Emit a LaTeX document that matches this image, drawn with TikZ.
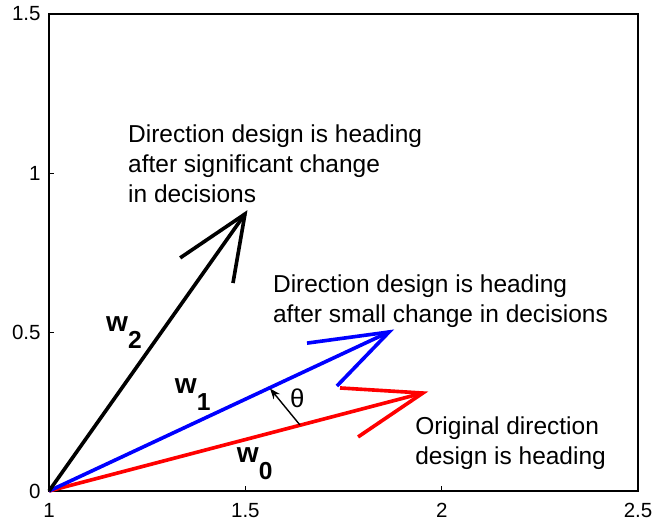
\documentclass[tikz,border=0pt]{standalone}
\usepackage{fontspec}
\setmainfont{Liberation Sans}
\usetikzlibrary{arrows.meta}
\definecolor{oldred}{RGB}{255, 0, 0}
\definecolor{newblue}{RGB}{0, 0, 255}
\tikzset{
  axisline/.style={line width=1.4pt, black},
  tickmark/.style={line width=0.8pt, black},
  ticklabel/.style={inner sep=0pt, font=\fontsize{17.5}{20}\selectfont},
  vec/.style={line width=3.1pt, line join=miter},
  note/.style={align=left, anchor=base west, inner sep=0pt, font=\fontsize{20.9}{25.6}\selectfont},
  wlabel/.style={anchor=base west, inner sep=0pt, font=\fontsize{24}{24}\selectfont\bfseries},
  anglearrow/.style={-{Stealth[length=9pt, width=7pt]}, line width=1.2pt},
}
\begin{document}
\begin{tikzpicture}[x=11.781cm, y=9.54cm]
        \useasboundingbox (0.8752, -0.1006) rectangle (2.5355, 1.544);
        % axes
        \draw[axisline] (1, 0) rectangle (2.5, 1.5);
        \foreach \xv in {1.5, 2} \draw[tickmark] (\xv, 0) -- ++(0, 4pt);
        \foreach \yv in {0.5, 1} \draw[tickmark] (1, \yv) -- ++(4pt, 0);
        \foreach \xv in {1, 1.5, 2, 2.5}
          \node[ticklabel, anchor=north] (x\xv) at ([yshift=-10pt]\xv, 0) {\xv};
        \foreach \yv in {0, 0.5, 1, 1.5}
          \node[ticklabel, anchor=east] (y\yv) at ([xshift=-7pt]1, \yv) {\yv};

        % vectors
        \coordinate (o) at (1, 0);
        \coordinate (w0tip) at (1.952, 0.308);
        \coordinate (w1tip) at (1.866, 0.500);
        \coordinate (w2tip) at (1.499, 0.871);
        \draw[vec, oldred] (o) -- (w0tip);
        \draw[vec, oldred] (1.741, 0.324) -- (w0tip) -- (1.787, 0.170);
        \draw[vec, newblue] (o) -- (w1tip);
        \draw[vec, newblue] (1.657, 0.465) -- (w1tip) -- (1.733, 0.330);
        \draw[vec, black] (o) -- (w2tip);
        \draw[vec, black] (1.334, 0.733) -- (w2tip) -- (1.4685, 0.654);

        % angle between w0 and w1
        \coordinate (th0) at (1.639, 0.2075);
        \coordinate (th1) at (1.563, 0.322);
        \draw[anglearrow] (th0) -- (th1);
        \node[font=\fontsize{22}{22}\selectfont, inner sep=0pt] (theta) at (1.632, 0.292) {θ};

        % labels
        \node[wlabel] (w0) at (1.478, 0.089) {w\raisebox{-14pt}{\fontsize{21}{21}\selectfont 0}};
        \node[wlabel] (w1) at (1.320, 0.305) {w\raisebox{-14pt}{\fontsize{21}{21}\selectfont 1}};
        \node[wlabel] (w2) at (1.145, 0.500) {w\raisebox{-14pt}{\fontsize{21}{21}\selectfont 2}};
        \node[note] (big) at (1.201, 0.906) {Direction design is heading\\after significant change\\in decisions};
        \node[note] (small) at (1.570, 0.531) {Direction design is heading\\after small change in decisions};
        \node[note] (orig) at (1.932, 0.082) {Original direction\\design is heading};
\end{tikzpicture}
\end{document}
